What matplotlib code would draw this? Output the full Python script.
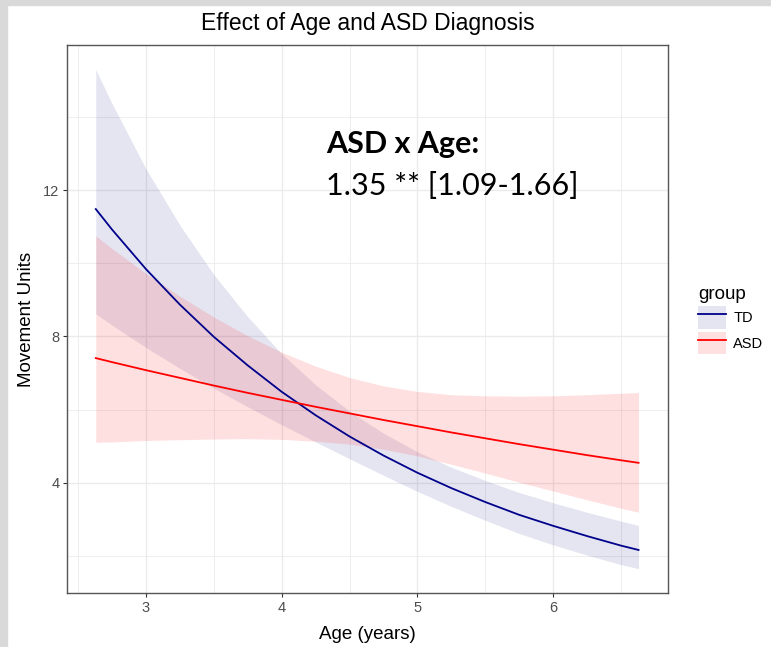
import numpy as np
import matplotlib.pyplot as plt
from matplotlib.patches import Patch, Rectangle
from matplotlib.lines import Line2D
from matplotlib.ticker import MultipleLocator

# Вік (роки), в яких зчитано значення з графіка
age = [2.63, 2.75, 3.0, 3.25, 3.5, 3.75, 4.0, 4.25, 4.5, 4.75,
       5.0, 5.25, 5.5, 5.75, 6.0, 6.25, 6.5, 6.63]

# TD: прогноз і довірчий інтервал
td_fit = [11.48, 10.92, 9.84, 8.87, 7.99, 7.21, 6.49, 5.85, 5.27, 4.75,
          4.28, 3.86, 3.48, 3.13, 2.83, 2.55, 2.29, 2.17]
td_hi = [15.29, 14.36, 12.58, 11.04, 9.69, 8.54, 7.53, 6.68, 5.96, 5.36,
         4.85, 4.43, 4.07, 3.74, 3.46, 3.20, 2.96, 2.84]
td_lo = [8.62, 8.31, 7.70, 7.13, 6.59, 6.08, 5.59, 5.12, 4.66, 4.21,
         3.77, 3.36, 2.98, 2.62, 2.31, 2.03, 1.77, 1.66]

# ASD: прогноз і довірчий інтервал
asd_fit = [7.41, 7.30, 7.08, 6.87, 6.66, 6.46, 6.27, 6.08, 5.90, 5.72,
           5.55, 5.38, 5.22, 5.06, 4.91, 4.76, 4.62, 4.55]
asd_hi = [10.75, 10.40, 9.72, 9.10, 8.53, 8.02, 7.57, 7.19, 6.88, 6.65,
          6.50, 6.41, 6.38, 6.37, 6.38, 6.41, 6.45, 6.47]
asd_lo = [5.11, 5.12, 5.16, 5.18, 5.20, 5.21, 5.19, 5.14, 5.06, 4.92,
          4.74, 4.51, 4.27, 4.02, 3.78, 3.54, 3.31, 3.20]

groups = ['TD', 'ASD']
line_colors = {'TD': '#00008b', 'ASD': '#ff0000'}
band_colors = {'TD': (0.0, 0.0, 0.5, 0.10), 'ASD': (1.0, 0.0, 0.0, 0.12)}

plt.rcParams['font.family'] = ['Liberation Sans', 'DejaVu Sans']

fig = plt.figure(figsize=(7.71, 6.47), dpi=100)
# сіра рамка скріншоту
fig.patches.append(Rectangle((0, 0), 7 / 771, 1, transform=fig.transFigure,
                             color='#d9d9d9', zorder=0))
fig.patches.append(Rectangle((0, 1 - 5 / 647), 1, 5 / 647, transform=fig.transFigure,
                             color='#d9d9d9', zorder=0))

ax = fig.add_axes([67 / 771, 54 / 647, 601 / 771, 548 / 647])

ax.fill_between(age, td_lo, td_hi, color=band_colors['TD'], lw=0)
ax.fill_between(age, asd_lo, asd_hi, color=band_colors['ASD'], lw=0)
ax.plot(age, td_fit, color=line_colors['TD'], lw=1.3)
ax.plot(age, asd_fit, color=line_colors['ASD'], lw=1.3)

ax.set_xlim(2.418, 6.847)
ax.set_ylim(0.995, 15.96)
ax.xaxis.set_major_locator(MultipleLocator(1))
ax.xaxis.set_minor_locator(MultipleLocator(0.5))
ax.yaxis.set_major_locator(MultipleLocator(4))
ax.yaxis.set_minor_locator(MultipleLocator(2))
ax.grid(which='major', color='#ebebeb', lw=1.0)
ax.grid(which='minor', color='#ebebeb', lw=0.6)
ax.set_axisbelow(True)
for s in ax.spines.values():
    s.set_color('#555555')
    s.set_linewidth(1.0)
ax.tick_params(which='major', length=3, width=0.8, color='#333333',
               labelsize=10.5, labelcolor='#4d4d4d', pad=2.5)
ax.tick_params(which='minor', length=0)

ax.set_xlabel('Age (years)', fontsize=13.5, labelpad=8)
ax.set_ylabel('Movement Units', fontsize=13.5, labelpad=6)
ax.set_title('Effect of Age and ASD Diagnosis', fontsize=16.5, pad=10.5)

# анотація
fig.text(326 / 771, 1 - 153 / 647, 'ASD x Age:', fontsize=22, fontweight='bold',
         family=['Lato', 'DejaVu Sans'], va='baseline')
fig.text(326 / 771, 1 - 195 / 647, '1.35 ** [1.09-1.66]', fontsize=22,
         family=['Lato', 'DejaVu Sans'], va='baseline')

handles = [(Patch(facecolor=band_colors[g], edgecolor='none'),
            Line2D([], [], color=line_colors[g], lw=1.3)) for g in groups]
leg = fig.legend(handles, groups, title='group', loc='upper left',
                 bbox_to_anchor=(691 / 771, 1 - 279 / 647), frameon=False,
                 fontsize=10.5, title_fontsize=13.5, borderpad=0,
                 handlelength=1.9, handleheight=2.0, labelspacing=0.2,
                 handletextpad=0.5, alignment='left')

fig.savefig('out.png', dpi=100)
